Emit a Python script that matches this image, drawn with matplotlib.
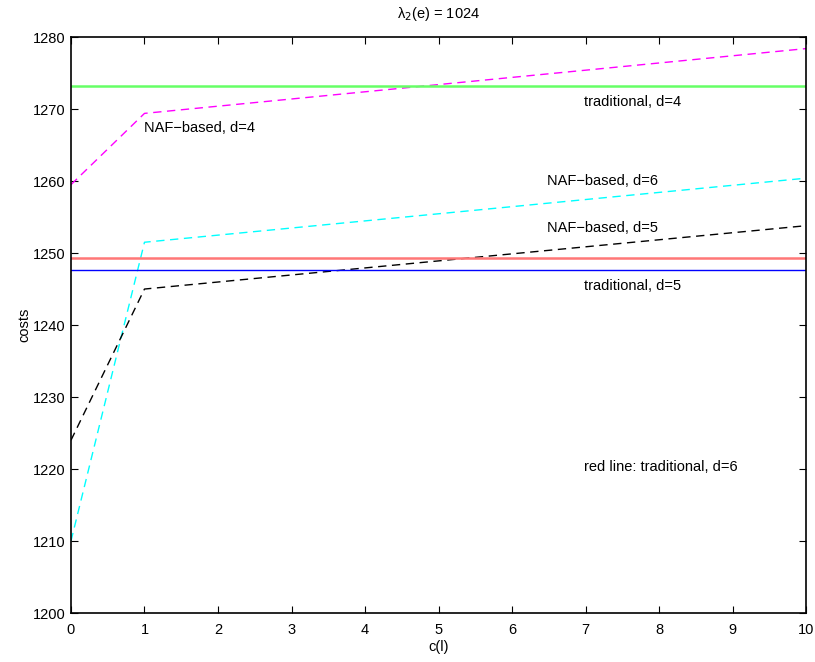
import matplotlib
matplotlib.use("Agg")
import matplotlib.pyplot as plt

plt.rcParams['font.family'] = ['Liberation Sans', 'DejaVu Sans']

# c(l) values
cl = [0, 1, 10]

# NAF-based costs
naf4 = [1259.5, 1269.4, 1278.4]
naf5 = [1224.0, 1245.0, 1253.8]
naf6 = [1210.0, 1251.5, 1260.4]

# traditional costs (constant)
trad4 = 1273.2
trad5 = 1247.6
trad6 = 1249.3

fig = plt.figure(figsize=(8.15, 6.62), dpi=100)
ax = fig.add_axes([0.0871, 0.074, 0.9019, 0.870])

ax.plot(cl, naf4, color='#ff00ff', ls=(0, (6, 4)), lw=1)
ax.plot(cl, naf6, color='#00ffff', ls=(0, (6, 4)), lw=1)
ax.plot(cl, naf5, color='black', ls=(0, (6, 4)), lw=1)
ax.axhline(trad4, color='#66ff66', lw=1.8)
ax.axhline(trad6, color='#ff7777', lw=1.8)
ax.axhline(trad5, color='#0000ff', lw=1)

fs = 10.5
ax.text(1.0, 1267.4, 'NAF\u2212based, d=4', fontsize=fs, va='center')
ax.text(6.98, 1271.0, 'traditional, d=4', fontsize=fs, va='center')
ax.text(6.48, 1260.0, 'NAF\u2212based, d=6', fontsize=fs, va='center')
ax.text(6.48, 1253.5, 'NAF\u2212based, d=5', fontsize=fs, va='center')
ax.text(6.98, 1245.4, 'traditional, d=5', fontsize=fs, va='center')
ax.text(6.98, 1220.3, 'red line: traditional, d=6', fontsize=fs, va='center')

ax.set_xlim(0, 10)
ax.set_ylim(1200, 1280)
ax.set_xticks(range(0, 11))
ax.set_yticks(range(1200, 1281, 10))
ax.tick_params(direction='in', top=True, right=True, labelsize=fs, length=5, width=0.8)
ax.tick_params(axis='x', pad=7)
ax.tick_params(axis='y', pad=4)
for s in ax.spines.values():
    s.set_linewidth(1.2)

ax.set_xlabel('c(l)', fontsize=fs, labelpad=2)
ax.set_ylabel('costs', fontsize=fs, labelpad=1)
ax.set_title('\u03bb$_2$(e) = 1024', fontsize=fs, pad=14)

fig.savefig('out.png', dpi=100)
